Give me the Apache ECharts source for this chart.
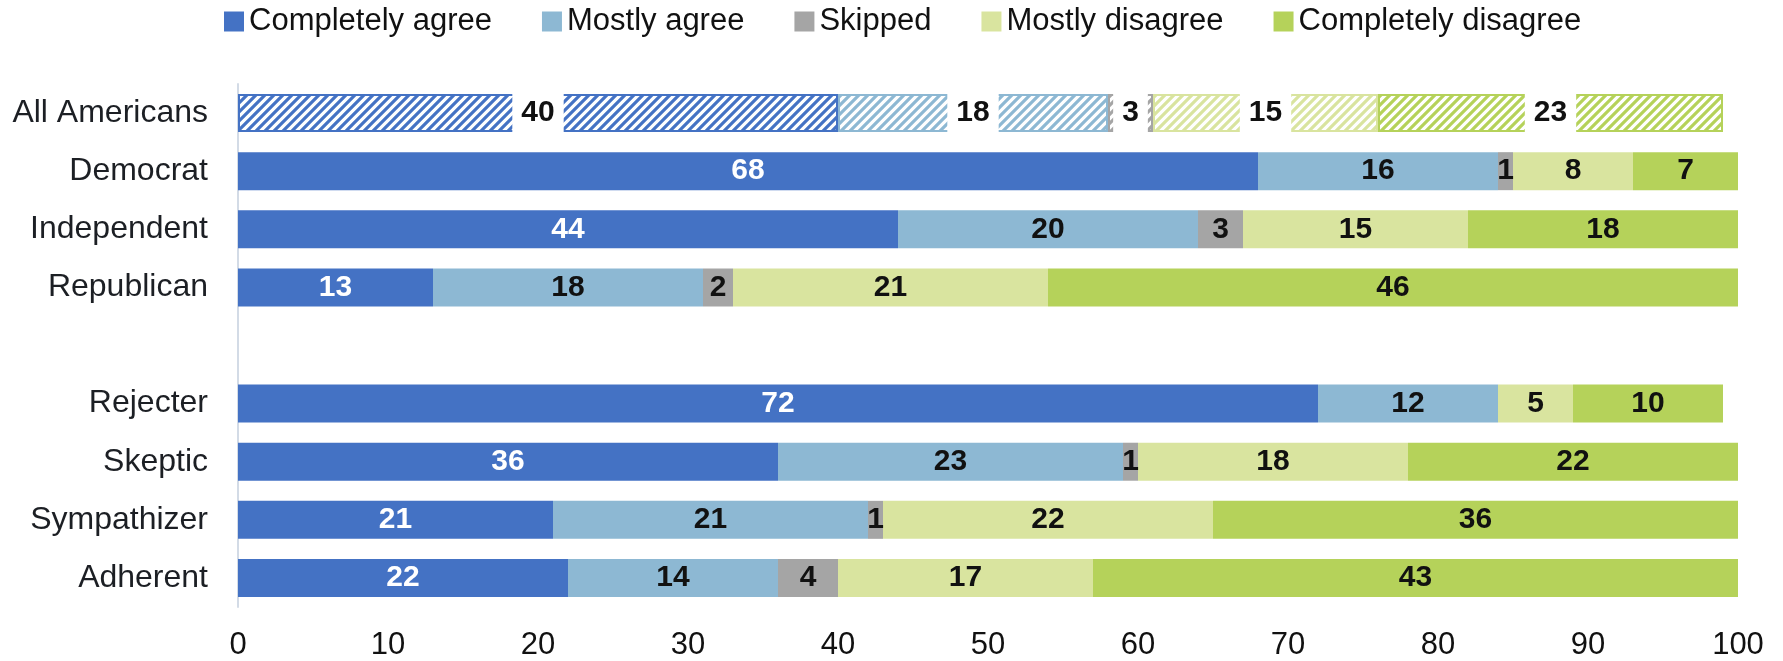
<!DOCTYPE html>
<html>
<head>
<meta charset="utf-8">
<script src="https://cdn.jsdelivr.net/npm/echarts@6/dist/echarts.min.js"></script>
<style>
html,body{margin:0;padding:0;background:#fff;}
#chart{width:1783px;height:661px;}
</style>
</head>
<body>
<div id="chart"></div>
<script>
const categories = ['All Americans', 'Democrat', 'Independent', 'Republican', '', 'Rejecter', 'Skeptic', 'Sympathizer', 'Adherent'];
const seriesNames = ['Completely agree', 'Mostly agree', 'Skipped', 'Mostly disagree', 'Completely disagree'];
const completelyAgree    = [40, 68, 44, 13, null, 72, 36, 21, 22];
const mostlyAgree        = [18, 16, 20, 18, null, 12, 23, 21, 14];
const skipped            = [3, 1, 3, 2, null, null, 1, 1, 4];
const mostlyDisagree     = [15, 8, 15, 21, null, 5, 18, 22, 17];
const completelyDisagree = [23, 7, 18, 46, null, 10, 22, 36, 43];
const xTicks = [0, 10, 20, 30, 40, 50, 60, 70, 80, 90, 100];

const colors = ['#4472C4', '#8DB8D3', '#A5A5A5', '#D9E49F', '#B5D25A'];
const labelColors = ['#ffffff', '#111111', '#111111', '#111111', '#111111'];
const values = [completelyAgree, mostlyAgree, skipped, mostlyDisagree, completelyDisagree];
const FONT = '"Liberation Sans", Arial, sans-serif';

function hatch(color) {
  const s = 9;
  const c = document.createElement('canvas');
  c.width = s; c.height = s;
  const ctx = c.getContext('2d');
  ctx.fillStyle = '#ffffff';
  ctx.fillRect(0, 0, s, s);
  ctx.strokeStyle = color;
  ctx.lineWidth = 3.2;
  ctx.beginPath();
  ctx.moveTo(0, s); ctx.lineTo(s, 0);
  ctx.moveTo(-s / 2, s / 2); ctx.lineTo(s / 2, -s / 2);
  ctx.moveTo(s / 2, s * 1.5); ctx.lineTo(s * 1.5, s / 2);
  ctx.stroke();
  return c;
}

const series = seriesNames.map((name, si) => ({
  name: name,
  type: 'bar',
  stack: 'total',
  barWidth: 38,
  itemStyle: { color: colors[si] },
  label: {
    show: true,
    position: 'inside',
    color: labelColors[si],
    fontFamily: FONT,
    fontWeight: 'bold',
    fontSize: 30
  },
  emphasis: { disabled: true },
  data: values[si].map((v, i) => {
    if (i === 0) {
      return {
        value: v,
        itemStyle: {
          color: { image: hatch(colors[si]), repeat: 'repeat' },
          borderColor: colors[si],
          borderWidth: 2
        },
        label: {
          color: '#111111',
          backgroundColor: '#ffffff',
          padding: [6, 9, 5, 9]
        }
      };
    }
    return v;
  })
}));

const chart = echarts.init(document.getElementById('chart'));
chart.setOption({
  animation: false,
  color: colors,
  legend: {
    data: seriesNames,
    left: 219,
    top: 1,
    icon: 'rect',
    itemWidth: 20,
    itemHeight: 20,
    itemGap: 50,
    textStyle: { fontFamily: FONT, fontSize: 31, color: '#111111' }
  },
  grid: { left: 238, right: 45, top: 84, bottom: 54, containLabel: false },
  xAxis: {
    type: 'value',
    min: xTicks[0],
    max: xTicks[xTicks.length - 1],
    interval: 10,
    axisLine: { show: false },
    axisTick: { show: false },
    splitLine: { show: false },
    axisLabel: { fontFamily: FONT, fontSize: 31, color: '#111111', margin: 23 }
  },
  yAxis: {
    type: 'category',
    data: categories,
    inverse: true,
    axisLine: { show: true, lineStyle: { color: '#D3DBE6', width: 2 } },
    axisTick: { show: false },
    axisLabel: { fontFamily: FONT, fontSize: 32, color: '#1c1f24', margin: 30 }
  },
  series: series
});
</script>
</body>
</html>
